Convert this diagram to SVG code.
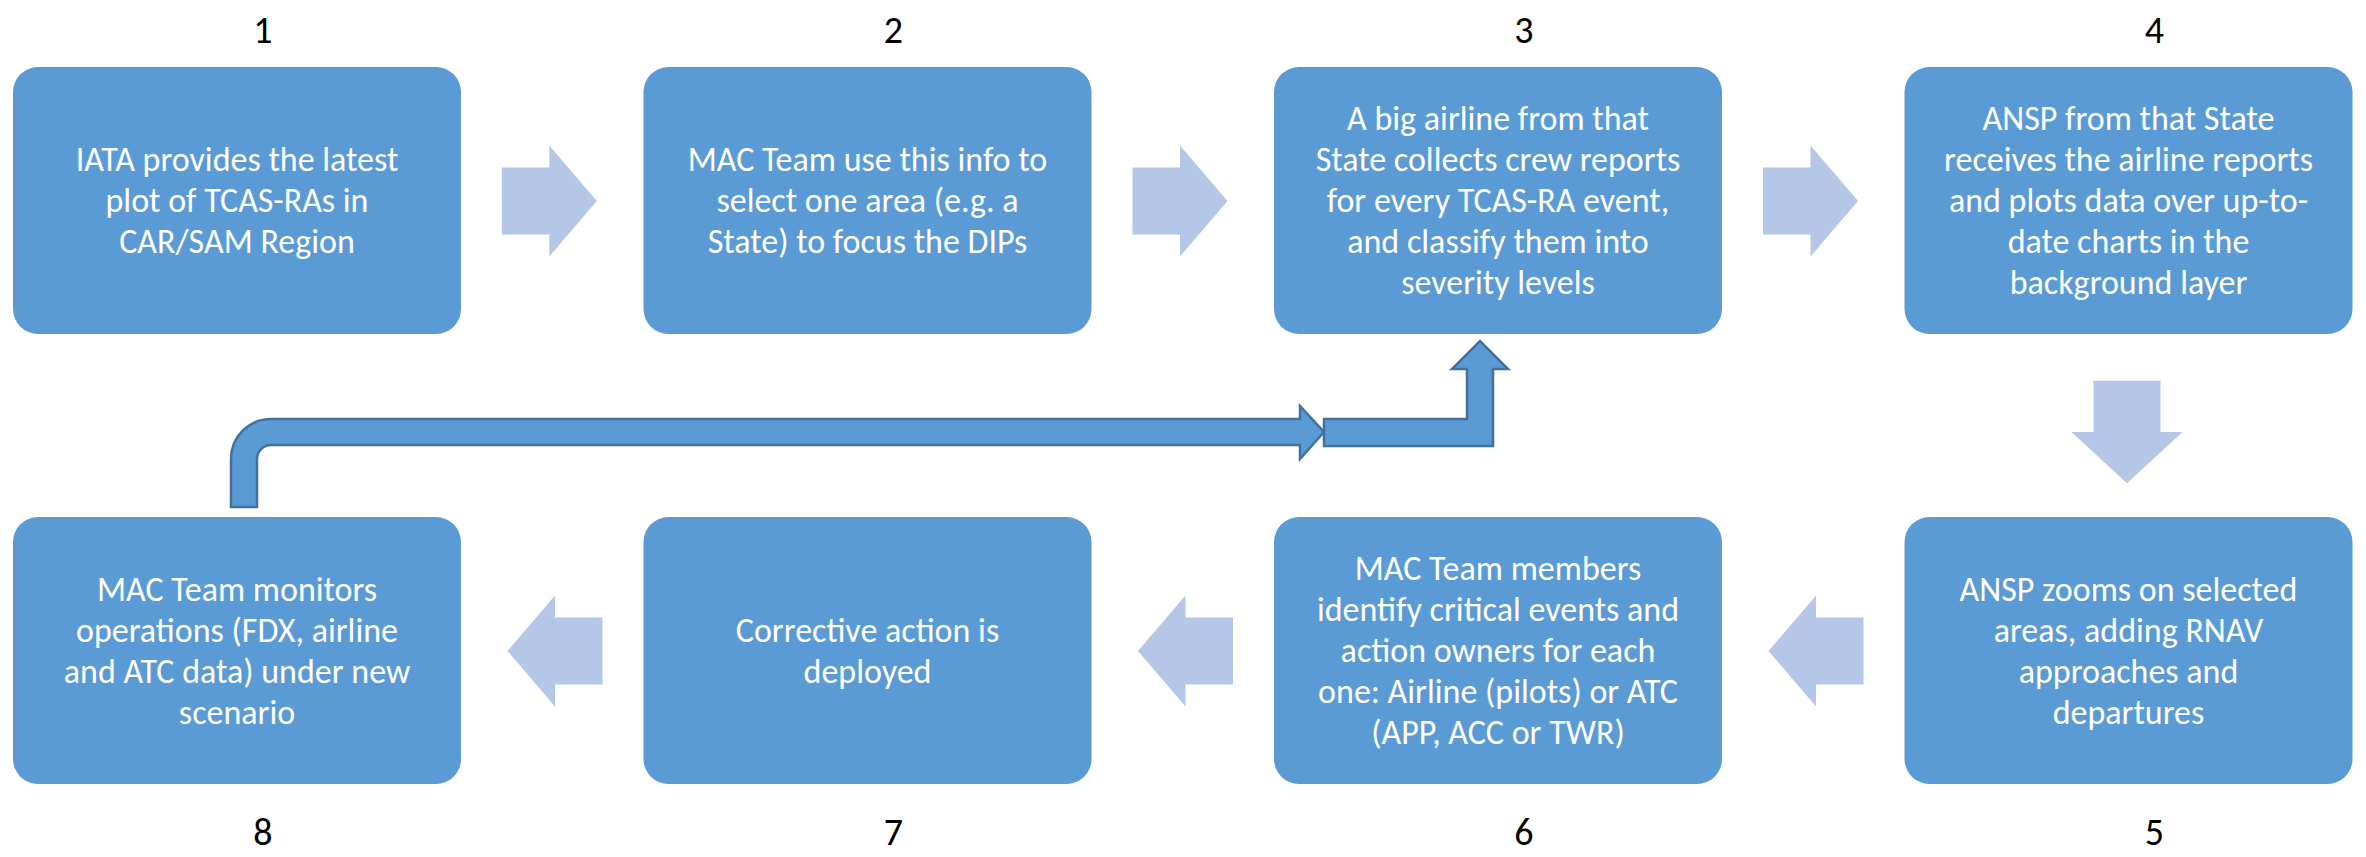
<svg xmlns="http://www.w3.org/2000/svg" width="2366" height="857" viewBox="0 0 2366 857">
<defs>
<style>
.box{fill:#5B9BD5;}
.t{font-family:Carlito,Calibri,Lato,"Liberation Sans",sans-serif;font-size:34px;fill:#FFFFFF;text-anchor:middle;}
.n{font-family:Carlito,Calibri,Lato,"Liberation Sans",sans-serif;font-size:38px;fill:#000000;text-anchor:middle;}
.fa{fill:#B4C7E7;}
.fb{fill:#5B9BD5;stroke:#41719C;stroke-width:2.5;stroke-linejoin:miter;}
</style>
<path id="arr" d="M-47.5,-33.5 L0,-33.5 L0,-55.5 L47.5,0 L0,55.5 L0,33.5 L-47.5,33.5 Z"/>
</defs>
<rect width="2366" height="857" fill="#FFFFFF"/>

<g id="node1">
<rect class="box" x="13" y="67" width="448" height="267" rx="25"/>
<text class="n" x="263" y="43">1</text>
<text class="t"><tspan x="237" y="171">IATA provides the latest</tspan><tspan x="237" y="212">plot of TCAS-RAs in</tspan><tspan x="237" y="253">CAR/SAM Region</tspan></text>
</g>
<g id="node2">
<rect class="box" x="643.5" y="67" width="448" height="267" rx="25"/>
<text class="n" x="893.5" y="43">2</text>
<text class="t"><tspan x="867.5" y="171">MAC Team use this info to</tspan><tspan x="867.5" y="212">select one area (e.g. a</tspan><tspan x="867.5" y="253">State) to focus the DIPs</tspan></text>
</g>
<g id="node3">
<rect class="box" x="1274" y="67" width="448" height="267" rx="25"/>
<text class="n" x="1524" y="43">3</text>
<text class="t"><tspan x="1498" y="130">A big airline from that</tspan><tspan x="1498" y="171">State collects crew reports</tspan><tspan x="1498" y="212">for every TCAS-RA event,</tspan><tspan x="1498" y="253">and classify them into</tspan><tspan x="1498" y="294">severity levels</tspan></text>
</g>
<g id="node4">
<rect class="box" x="1904.5" y="67" width="448" height="267" rx="25"/>
<text class="n" x="2154.5" y="43">4</text>
<text class="t"><tspan x="2128.5" y="130">ANSP from that State</tspan><tspan x="2128.5" y="171">receives the airline reports</tspan><tspan x="2128.5" y="212">and plots data over up-to-</tspan><tspan x="2128.5" y="253">date charts in the</tspan><tspan x="2128.5" y="294">background layer</tspan></text>
</g>
<g id="node5">
<rect class="box" x="1904.5" y="517" width="448" height="267" rx="25"/>
<text class="n" x="2154.5" y="845">5</text>
<text class="t"><tspan x="2128.5" y="600.5">ANSP zooms on selected</tspan><tspan x="2128.5" y="641.5">areas, adding RNAV</tspan><tspan x="2128.5" y="682.5">approaches and</tspan><tspan x="2128.5" y="723.5">departures</tspan></text>
</g>
<g id="node6">
<rect class="box" x="1274" y="517" width="448" height="267" rx="25"/>
<text class="n" x="1524" y="845">6</text>
<text class="t"><tspan x="1498" y="580">MAC Team members</tspan><tspan x="1498" y="621">identify critical events and</tspan><tspan x="1498" y="662">action owners for each</tspan><tspan x="1498" y="703">one: Airline (pilots) or ATC</tspan><tspan x="1498" y="744">(APP, ACC or TWR)</tspan></text>
</g>
<g id="node7">
<rect class="box" x="643.5" y="517" width="448" height="267" rx="25"/>
<text class="n" x="893.5" y="845">7</text>
<text class="t"><tspan x="867.5" y="641.5">Corrective action is</tspan><tspan x="867.5" y="682.5">deployed</tspan></text>
</g>
<g id="node8">
<rect class="box" x="13" y="517" width="448" height="267" rx="25"/>
<text class="n" x="263" y="845">8</text>
<text class="t"><tspan x="237" y="600.5">MAC Team monitors</tspan><tspan x="237" y="641.5">operations (FDX, airline</tspan><tspan x="237" y="682.5">and ATC data) under new</tspan><tspan x="237" y="723.5">scenario</tspan></text>
</g>

<g id="connectors">
<use href="#arr" class="fa" transform="translate(549.3,201)"/>
<use href="#arr" class="fa" transform="translate(1180,201)"/>
<use href="#arr" class="fa" transform="translate(1810.5,201)"/>
<use href="#arr" class="fa" transform="translate(2127,432) rotate(90) scale(1.08,1)"/>
<use href="#arr" class="fa" transform="translate(1816,651) scale(-1,1)"/>
<use href="#arr" class="fa" transform="translate(1185.5,651) scale(-1,1)"/>
<use href="#arr" class="fa" transform="translate(555,651) scale(-1,1)"/>
<path class="fb" d="M231,507 L231,459 A40,40 0 0 1 271,419 L1300,419 L1300,406 L1324,432 L1300,459 L1300,445 L271,445 A14,14 0 0 0 257,459 L257,507 Z"/>
<path class="fb" d="M1324,419 L1467,419 L1467,369 L1452,369 L1480,341 L1508,369 L1493,369 L1493,446 L1324,446 Z"/>
</g>
</svg>
